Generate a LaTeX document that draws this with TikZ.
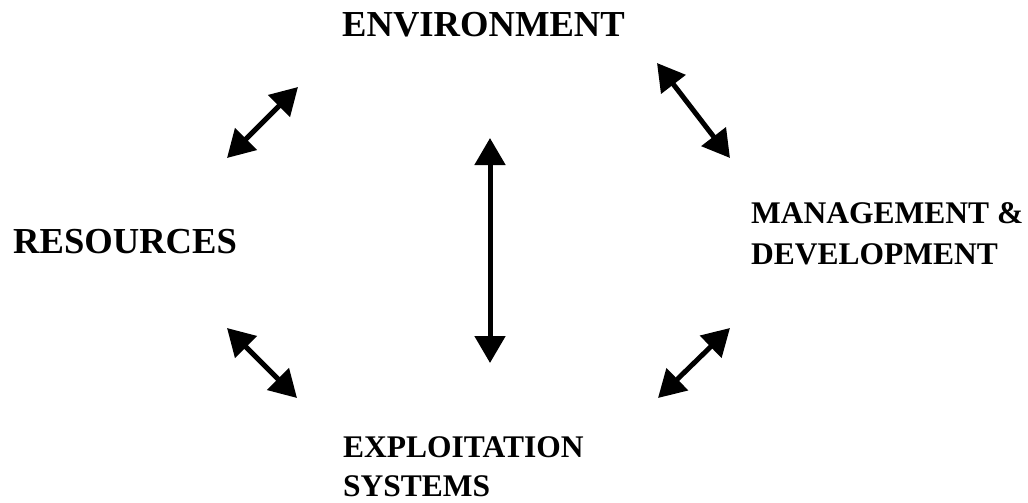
\documentclass[tikz,border=0pt]{standalone}
\usepackage{fontspec}
\setmainfont{Liberation Serif}
\usetikzlibrary{arrows.meta}
\tikzset{
  bigtitle/.style={inner sep=0pt, anchor=base west, font=\fontsize{36.6}{44}\selectfont\bfseries},
  smalltitle/.style={inner sep=0pt, anchor=base west, align=left, font=\fontsize{31.5}{40.5}\selectfont\bfseries},
  smalltitleb/.style={smalltitle, font=\fontsize{31.5}{38.5}\selectfont\bfseries},
  dbl/.style={line width=5pt, {Triangle[length=27pt,width=30pt]}-{Triangle[length=27pt,width=30pt]}}
}
\begin{document}
\begin{tikzpicture}[x=1pt,y=-1pt]
\useasboundingbox (0,0) rectangle (1028,503);
\node[bigtitle] (env) at (342,37) {ENVIRONMENT};
\node[bigtitle] (res) at (13,253) {RESOURCES};
% base anchor of a multi-line node is the baseline of its last line
\node[smalltitle] (man) at (751,264) {MANAGEMENT \&\\DEVELOPMENT};
\node[smalltitleb] (exp) at (343,496) {EXPLOITATION\\SYSTEMS};
% arrow end points
\coordinate (tl1) at (227,158);
\coordinate (tl2) at (298,87);
\coordinate (tr1) at (657,63);
\coordinate (tr2) at (730,158);
\coordinate (v1) at (490,138);
\coordinate (v2) at (490,363);
\coordinate (bl1) at (227,328);
\coordinate (bl2) at (297,398);
\coordinate (br1) at (658,398);
\coordinate (br2) at (730,328);
\draw[dbl] (tl1) -- (tl2);
\draw[dbl] (tr1) -- (tr2);
\draw[dbl] (v1) -- (v2);
\draw[dbl] (bl1) -- (bl2);
\draw[dbl] (br1) -- (br2);
\end{tikzpicture}
\end{document}
